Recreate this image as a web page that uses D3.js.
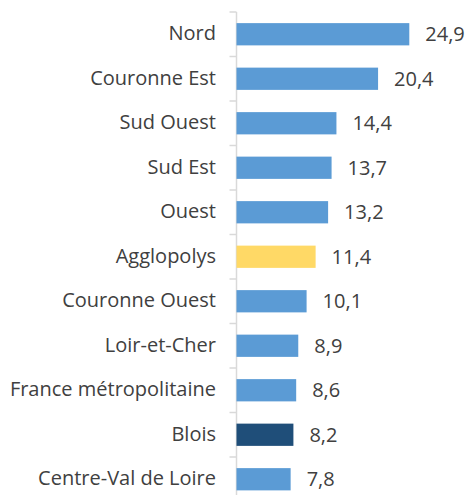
<!DOCTYPE html>
<html>
<head>
<meta charset="utf-8">
<script src="https://cdn.jsdelivr.net/npm/d3@7"></script>
<style>
    body { margin: 0; background: #fff; }
    svg text { font-family: "Open Sans", sans-serif; fill: #404040; }
</style>
</head>
<body>
<div id="app"></div>
<script>
// categories top to bottom
const categories = [
    "Nord", "Couronne Est", "Sud Ouest", "Sud Est", "Ouest", "Agglopolys",
    "Couronne Ouest", "Loir-et-Cher", "France métropolitaine", "Blois",
    "Centre-Val de Loire"
];
const values = [24.9, 20.4, 14.4, 13.7, 13.2, 11.4, 10.1, 8.9, 8.6, 8.2, 7.8];
const highlight = { "Agglopolys": "#FFD966", "Blois": "#1F4E79" };

function plotChart() {
    const svgWidth = 467;
    const svgHeight = 495;
    const axisX = 236.5;

    const data = categories.map((c, i) => ({ key: c, value: values[i] }));

    const svg = d3.select("#app").append("svg")
        .attr("width", svgWidth)
        .attr("height", svgHeight);

    const xFunction = d3.scaleLinear()
        .domain([0, 25])
        .range([axisX, 410]);

    // bands continue past the bottom edge, like the cropped original
    const yFunction = d3.scaleBand()
        .domain(categories)
        .range([12, 501.5])
        .paddingInner(0.5)
        .paddingOuter(0.25);

    const step = yFunction.step();
    const bw = yFunction.bandwidth();

    // category axis line + tick marks between categories
    svg.append("line")
        .attr("x1", axisX).attr("x2", axisX)
        .attr("y1", 12).attr("y2", svgHeight + 10)
        .attr("stroke", "#D9D9D9")
        .attr("stroke-width", 1.5);

    svg.selectAll(".tick-mark")
        .data(categories.concat(["__end"]))
        .enter()
        .append("line")
        .attr("x1", axisX - 7).attr("x2", axisX)
        .attr("y1", (d, i) => yFunction.range()[0] + i * step)
        .attr("y2", (d, i) => yFunction.range()[0] + i * step)
        .attr("stroke", "#D9D9D9")
        .attr("stroke-width", 1.5);

    svg.selectAll(".bar")
        .data(data)
        .enter()
        .append("rect")
        .attr("x", xFunction(0))
        .attr("y", d => yFunction(d.key))
        .attr("width", d => xFunction(d.value) - xFunction(0))
        .attr("height", bw)
        .attr("fill", d => highlight[d.key] || "#5B9BD5");

    svg.selectAll(".cat-label")
        .data(data)
        .enter()
        .append("text")
        .attr("x", 216)
        .attr("y", d => yFunction(d.key) + bw / 2 + 6)
        .attr("text-anchor", "end")
        .style("font-size", "20px")
        .text(d => d.key);

    svg.selectAll(".bar-label")
        .data(data)
        .enter()
        .append("text")
        .attr("x", d => xFunction(d.value) + 16)
        .attr("y", d => yFunction(d.key) + bw / 2 + 7)
        .style("font-size", "20px")
        .text(d => d3.format(".1f")(d.value).replace(".", ","));
}

plotChart();
</script>
</body>
</html>
